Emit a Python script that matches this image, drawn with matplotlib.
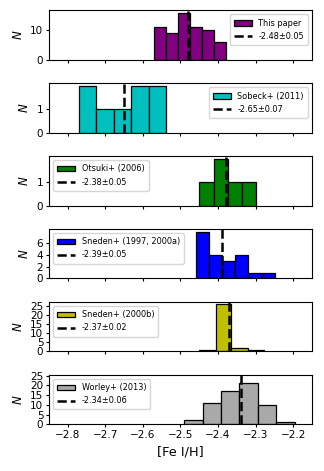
import matplotlib
matplotlib.use('Agg')
import matplotlib.pyplot as plt
import numpy as np

# bin edges / counts
labels = ['This paper', 'Sobeck+ (2011)', 'Otsuki+ (2006)',
          'Sneden+ (1997, 2000a)', 'Sneden+ (2000b)', 'Worley+ (2013)']
colors = ['purple', 'c', 'green', 'blue', 'y', 'darkgray']

edges_this = [-2.570, -2.538, -2.506, -2.474, -2.442, -2.410, -2.378]
counts_this = [11, 9, 16, 11, 10, 6]
edges_sobeck = [-2.770, -2.724, -2.678, -2.631, -2.585, -2.539]
counts_sobeck = [2, 1, 1, 2, 2]
edges_otsuki = [-2.450, -2.412, -2.374, -2.337, -2.299]
counts_otsuki = [1, 2, 1, 1]
edges_sneden97 = [-2.459, -2.424, -2.389, -2.354, -2.319, -2.284, -2.249]
counts_sneden97 = [8, 4, 3, 4, 1, 1]
edges_sneden00 = [-2.450, -2.405, -2.366, -2.321, -2.277]
counts_sneden00 = [1, 26, 2, 1]
edges_worley = [-2.490, -2.441, -2.392, -2.343, -2.294, -2.245, -2.196]
counts_worley = [2, 11, 17, 21, 10, 1]

means = [-2.48, -2.65, -2.38, -2.39, -2.37, -2.34]
errs = [0.05, 0.07, 0.05, 0.05, 0.02, 0.06]

all_edges = [edges_this, edges_sobeck, edges_otsuki, edges_sneden97, edges_sneden00, edges_worley]
all_counts = [counts_this, counts_sobeck, counts_otsuki, counts_sneden97, counts_sneden00, counts_worley]
yticks = [[0, 10], [0, 1], [0, 1], [0, 2, 4, 6], [0, 5, 10, 15, 20, 25], [0, 5, 10, 15, 20, 25]]
ytops = [None, None, None, None, None, 25.3]
legend_loc = ['upper right', 'upper right', 'upper left', 'upper left', 'upper left', 'upper left']

fig, axs = plt.subplots(6, 1, sharex=True, figsize=(3.24, 4.71), dpi=100)
fig.subplots_adjust(left=0.151, right=0.963, top=0.978, bottom=0.099, hspace=0.48)

for i, ax in enumerate(axs):
    e = np.array(all_edges[i])
    c = np.array(all_counts[i])
    ax.hist(e[:-1], bins=e, weights=c, color=colors[i], edgecolor='k', lw=0.9, label=labels[i])
    ax.axvline(means[i], color='k', ls='--', lw=1.8, label='%.2f±%.2f' % (means[i], errs[i]))
    ax.set_yticks(yticks[i])
    if ytops[i] is not None:
        ax.set_ylim(0, ytops[i])
    ax.set_ylabel(r'$N$', fontsize=8.5)
    ax.tick_params(labelsize=7.5, length=2.5, pad=1.5)
    ax.legend(loc=legend_loc[i], fontsize=5.9, handlelength=2.2, borderpad=0.5)

axs[-1].set_xlim(-2.85, -2.15)
axs[-1].set_xlabel('[Fe I/H]', fontsize=9.3)

fig.savefig('out.png', dpi=100)
